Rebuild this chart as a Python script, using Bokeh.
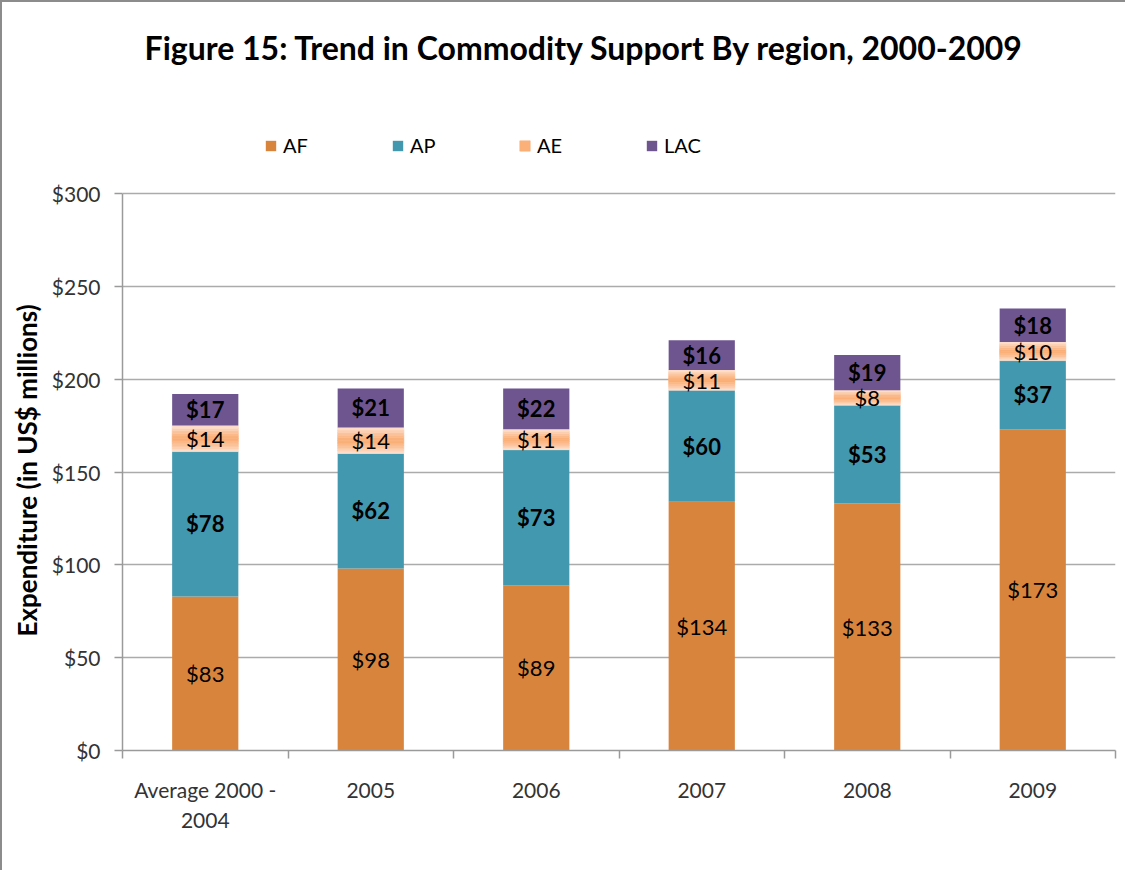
from bokeh.plotting import figure
from bokeh.models import Range1d, FixedTicker, NumeralTickFormatter, Legend, LegendItem, ColumnDataSource, Label, Title
from bokeh.core.properties import value
from bokeh.embed import file_html
from bokeh.resources import INLINE

# ---- data ----
categories = ["Average 2000 -\n2004", "2005", "2006", "2007", "2008", "2009"]
series_names = ["AF", "AP", "AE", "LAC"]
af = [83, 98, 89, 134, 133, 173]
ap = [78, 62, 73, 60, 53, 37]
ae = [14, 14, 11, 11, 8, 10]
lac = [17, 21, 22, 16, 19, 18]
y_ticks = [0, 50, 100, 150, 200, 250, 300]
title_text = "Figure 15: Trend in Commodity Support By region, 2000-2009"
y_title = "Expenditure (in US$ millions)"

FONT = "Lato"
C_AF = "#D9843D"
C_AP = "#4298AF"
C_LAC = "#6F5590"
AE_LIGHT = (253, 233, 224)
AE_DARK = (250, 172, 112)
GRID = "#ABABAB"
AX = "#9A9A9A"

n = len(categories)
xs = [i + 0.5 for i in range(n)]

H, BOTTOM = 870, 122
FRAME_H = H - BOTTOM
PX_PER_UNIT = 557 / 300.0
Y_END = FRAME_H / PX_PER_UNIT

p = figure(width=1125, height=H, x_range=Range1d(0, n), y_range=Range1d(0, Y_END),
           output_backend="svg", toolbar_location=None,
           min_border_left=120, min_border_right=12, min_border_top=0, min_border_bottom=BOTTOM)
p.styles = {"border-left": "2px solid #8c8c8c", "border-top": "2px solid #8c8c8c"}
p.outline_line_color = None
p.background_fill_color = "white"
p.border_fill_color = "white"

# grid
p.xgrid.grid_line_color = None
p.ygrid.ticker = FixedTicker(ticks=y_ticks)
p.ygrid.grid_line_color = GRID
p.ygrid.grid_line_width = 1.5

# y axis
p.yaxis.ticker = FixedTicker(ticks=y_ticks)
p.yaxis.formatter = NumeralTickFormatter(format="$0")
p.yaxis.bounds = (0, 300)
p.yaxis.axis_line_color = AX
p.yaxis.axis_line_width = 1.5
p.yaxis.major_tick_line_color = AX
p.yaxis.major_tick_line_width = 1.5
p.yaxis.major_tick_out = 8
p.yaxis.major_tick_in = 0
p.yaxis.minor_tick_line_color = None
p.yaxis.major_label_standoff = 14
p.yaxis.major_label_text_font = FONT
p.yaxis.major_label_text_font_size = "21px"
p.yaxis.major_label_text_color = "#333333"

# y axis title (placed as a side title so it centres on the 0-300 span)
ylab = Title(text=y_title, align="left", offset=114, standoff=10, vertical_align="middle",
             text_font=FONT, text_font_size="26px", text_font_style="bold", text_color="#000000")
p.add_layout(ylab, "left")

# x axis
p.xaxis.ticker = FixedTicker(ticks=xs, minor_ticks=list(range(n + 1)))
p.xaxis.major_label_overrides = {x: c for x, c in zip(xs, categories)}
p.xaxis.axis_line_color = AX
p.xaxis.axis_line_width = 1.5
p.xaxis.major_tick_line_color = None
p.xaxis.major_tick_out = 0
p.xaxis.major_tick_in = 0
p.xaxis.minor_tick_line_color = AX
p.xaxis.minor_tick_line_width = 1.5
p.xaxis.minor_tick_out = 8
p.xaxis.minor_tick_in = 0
p.xaxis.major_label_standoff = 18
p.xaxis.major_label_text_font = FONT
p.xaxis.major_label_text_font_size = "21px"
p.xaxis.major_label_text_color = "#333333"

W = 0.4
# AF
b0 = [0] * n
t1 = [a for a in af]
r_af = p.vbar(x=xs, width=W, bottom=b0, top=t1, fill_color=C_AF, line_color=None)
# AP
t2 = [a + b for a, b in zip(t1, ap)]
r_ap = p.vbar(x=xs, width=W, bottom=t1, top=t2, fill_color=C_AP, line_color=None)
# AE gradient bands
t3 = [a + b for a, b in zip(t2, ae)]
NB = 10
r_ae_mid = None
for k in range(NB):
    tc = (k + 0.5) / NB
    s = 1 - abs(2 * tc - 1)
    s = s ** 0.7
    rgb = tuple(int(round(AE_LIGHT[j] + (AE_DARK[j] - AE_LIGHT[j]) * s)) for j in range(3))
    col = "#%02x%02x%02x" % rgb
    bb = [base + v * k / NB for base, v in zip(t2, ae)]
    tt = [base + v * (k + 1) / NB for base, v in zip(t2, ae)]
    r = p.vbar(x=xs, width=W, bottom=bb, top=tt, fill_color=col, line_color=col, line_width=0.6)
    if k == NB // 2:
        r_ae_mid = r
# LAC
t4 = [a + b for a, b in zip(t3, lac)]
r_lac = p.vbar(x=xs, width=W, bottom=t3, top=t4, fill_color=C_LAC, line_color=None)

# data labels
def lab(vals, bottoms, bold):
    src = ColumnDataSource(dict(x=xs, y=[b + v / 2 for b, v in zip(bottoms, vals)],
                                t=["$%d" % v for v in vals]))
    p.text(x="x", y="y", text="t", source=src, text_align="center", text_baseline="middle",
           text_font=value(FONT), text_font_size="22px",
           text_font_style="bold" if bold else "normal", text_color="#000000")

lab(af, b0, False)
lab(ap, t1, True)
lab(ae, t2, False)
lab(lac, t3, True)

# legend
legend = Legend(items=[LegendItem(label=series_names[0], renderers=[r_af]),
                       LegendItem(label=series_names[1], renderers=[r_ap]),
                       LegendItem(label=series_names[2], renderers=[r_ae_mid]),
                       LegendItem(label=series_names[3], renderers=[r_lac])],
                orientation="horizontal", location=(142, 593),
                glyph_width=13, glyph_height=13, label_standoff=6, label_width=101, spacing=7,
                padding=0, margin=0, border_line_color=None, background_fill_alpha=0,
                label_text_font=FONT, label_text_font_size="20px", label_text_color="#000000")
p.add_layout(legend)

# title
title = Label(x=462, y=703, x_units="screen", y_units="screen",
              text=title_text,
              text_align="center", text_baseline="middle", text_font=FONT,
              text_font_size="32px", text_font_style="bold", text_color="#000000")
p.add_layout(title)

open("out.html", "w").write(file_html(p, INLINE))
